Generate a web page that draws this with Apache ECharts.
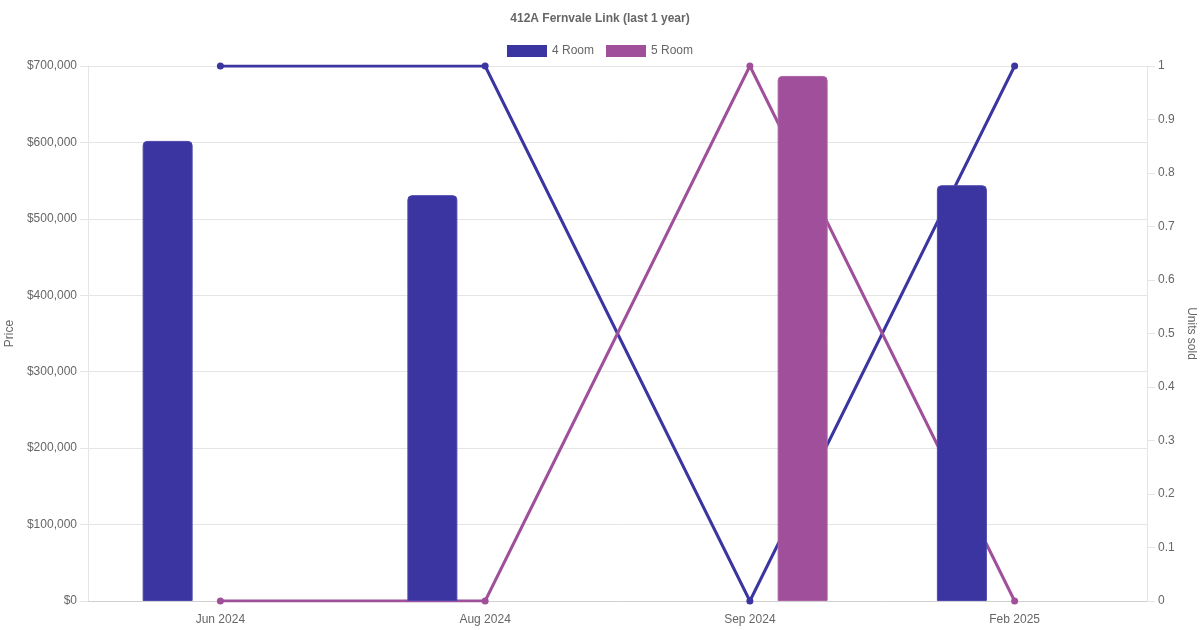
<!DOCTYPE html>
<html>
<head>
<meta charset="utf-8">
<script src="https://cdn.jsdelivr.net/npm/echarts@6/dist/echarts.min.js"></script>
<style>html,body{margin:0;padding:0;background:#fff;}#c{width:1200px;height:630px;}</style>
</head>
<body>
<div id="c"></div>
<script>
var categories = ['Jun 2024', 'Aug 2024', 'Sep 2024', 'Feb 2025'];
var price4Room = [602000, 531000, null, 544000];
var price5Room = [null, null, 687000, null];
var units4Room = [1, 1, 0, 1];
var units5Room = [0, 0, 1, 0];
var titleText = '412A Fernvale Link (last 1 year)';

var C4 = '#3a35a0';
var C5 = '#a0509a';
var FONT = '"Liberation Sans", Arial, Helvetica, sans-serif';

var chart = echarts.init(document.getElementById('c'));
chart.setOption({
  animation: false,
  textStyle: { fontFamily: FONT },
  title: {
    text: titleText, left: 'center', top: 8,
    textStyle: { fontSize: 12, fontWeight: 'bold', color: '#666', fontFamily: FONT }
  },
  legend: {
    top: 40, left: 'center', icon: 'rect', itemWidth: 40, itemHeight: 12, itemGap: 12,
    itemStyle: { borderWidth: 0 },
    textStyle: { color: '#666', fontSize: 12, fontFamily: FONT },
    data: ['4 Room', '5 Room']
  },
  grid: { left: 88, right: 53, top: 66, bottom: 29, containLabel: false, outerBoundsMode: 'none' },
  xAxis: {
    type: 'category', data: categories, boundaryGap: true,
    axisLine: { lineStyle: { color: '#d0d0d0' } },
    axisTick: { show: false },
    axisLabel: { color: '#666', fontSize: 12, margin: 13, fontFamily: FONT },
    splitLine: { show: false }
  },
  yAxis: [
    {
      type: 'value', min: 0, max: 700000, interval: 100000,
      name: 'Price', nameLocation: 'middle', nameGap: 67,
      nameTextStyle: { color: '#666', fontSize: 12, fontFamily: FONT },
      axisLine: { show: true, lineStyle: { color: '#e5e5e5' } },
      axisTick: { show: true, length: 8, lineStyle: { color: '#e5e5e5' } },
      axisLabel: { color: '#666', fontSize: 12, margin: 11, fontFamily: FONT,
        formatter: function (v) { return '$' + v.toLocaleString('en-US'); } },
      splitLine: { show: true, lineStyle: { color: '#e5e5e5' } }
    },
    {
      type: 'value', min: 0, max: 1, interval: 0.1, position: 'right',
      name: 'Units sold', nameLocation: 'middle', nameGap: 33, nameRotate: -90,
      nameTextStyle: { color: '#666', fontSize: 12, fontFamily: FONT },
      axisLine: { show: true, lineStyle: { color: '#e5e5e5' } },
      axisTick: { show: true, length: 8, lineStyle: { color: '#e5e5e5' } },
      axisLabel: { color: '#666', fontSize: 12, margin: 11, fontFamily: FONT,
        formatter: function (v) { return String(Math.round(v * 10) / 10); } },
      splitLine: { show: false }
    }
  ],
  series: [
    {
      name: '4 Room', type: 'bar', yAxisIndex: 0, data: price4Room, z: 3,
      barWidth: 50, barGap: '111%',
      itemStyle: { color: C4, borderRadius: [4, 4, 0, 0], borderColor: '#4d48ad', borderWidth: 1 }
    },
    {
      name: '5 Room', type: 'bar', yAxisIndex: 0, data: price5Room, z: 3,
      barWidth: 50, barGap: '111%',
      itemStyle: { color: C5, borderRadius: [4, 4, 0, 0], borderColor: '#ad64a7', borderWidth: 1 }
    },
    {
      name: '4 Room', type: 'line', yAxisIndex: 1, data: units4Room, z: 2,
      symbol: 'circle', symbolSize: 7, showAllSymbol: true,
      lineStyle: { color: C4, width: 3 }, itemStyle: { color: C4 }
    },
    {
      name: '5 Room', type: 'line', yAxisIndex: 1, data: units5Room, z: 2,
      symbol: 'circle', symbolSize: 7, showAllSymbol: true,
      lineStyle: { color: C5, width: 3 }, itemStyle: { color: C5 }
    }
  ]
});
</script>
</body>
</html>
